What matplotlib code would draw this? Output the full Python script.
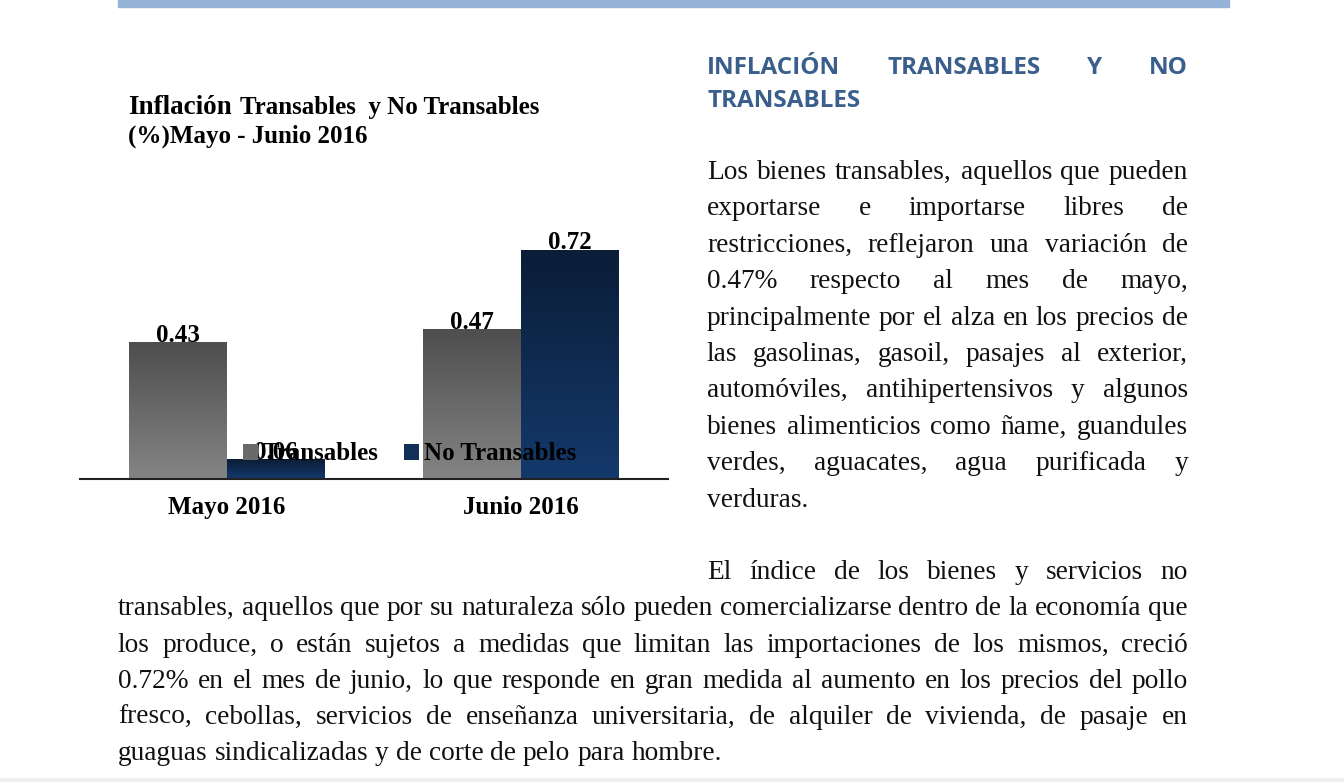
import matplotlib.pyplot as plt
import numpy as np
from matplotlib.colors import LinearSegmentedColormap
from matplotlib.patches import Rectangle

categorias = ["Mayo 2016", "Junio 2016"]
series = ["Transables", "No Transables"]
transables = [0.43, 0.47]
no_transables = [0.06, 0.72]

titulo_1 = "Inflación"
titulo_2 = "Transables  y No Transables"
titulo_3 = "(%)Mayo - Junio 2016"

encabezado = ["INFLACIÓN TRANSABLES Y NO", "TRANSABLES"]

parrafo_1 = [
    "Los bienes transables, aquellos que pueden",
    "exportarse e importarse libres de",
    "restricciones, reflejaron una variación de",
    "0.47% respecto al mes de mayo,",
    "principalmente por el alza en los precios de",
    "las gasolinas, gasoil, pasajes al exterior,",
    "automóviles, antihipertensivos y algunos",
    "bienes alimenticios como ñame, guandules",
    "verdes, aguacates, agua purificada y",
    "verduras.",
]

parrafo_2 = [
    "El índice de los bienes y servicios no",
    "transables, aquellos que por su naturaleza sólo pueden comercializarse dentro de la economía que",
    "los produce, o están sujetos a medidas que limitan las importaciones de los mismos, creció",
    "0.72% en el mes de junio, lo que responde en gran medida al aumento en los precios del pollo",
    "fresco, cebollas, servicios de enseñanza universitaria, de alquiler de vivienda, de pasaje en",
    "guaguas sindicalizadas y de corte de pelo para hombre.",
]

W, H = 1344, 782
fig = plt.figure(figsize=(W / 100, H / 100), dpi=100)
fig.patch.set_facecolor("white")


def fx(x):
    return x / W


def fy(y):
    return 1 - y / H


# page decoration: blue rule on top, grey strip at the bottom
fig.patches.append(Rectangle((fx(118), fy(7)), fx(1229) - fx(118), 7 / H,
                             transform=fig.transFigure, color="#95b3d7", zorder=0))
fig.patches.append(Rectangle((0, 0), 1, 4 / H, transform=fig.transFigure,
                             color="#efefef", zorder=0))

serif = "Liberation Serif"

# ---- chart ----
ax = fig.add_axes([fx(80), fy(479), fx(668) - fx(80), (479 - 193) / H])
x = np.arange(len(categorias))
w = 0.332
b1 = ax.bar(x - w / 2, transables, w, label=series[0], color="#6a6a6a")
b2 = ax.bar(x + w / 2, no_transables, w, label=series[1], color="#112f57")

grad = np.linspace(0, 1, 100).reshape(-1, 1)
cm_gris = LinearSegmentedColormap.from_list("gris", ["#4e4e4e", "#848484"])
cm_azul = LinearSegmentedColormap.from_list("azul", ["#0b1d37", "#14396b"])
for barras, cm in [(b1, cm_gris), (b2, cm_azul)]:
    for b in barras:
        x0, y0 = b.get_x(), b.get_y()
        ax.imshow(grad, cmap=cm, aspect="auto", origin="upper", zorder=1.5,
                  extent=[x0, x0 + b.get_width(), y0, y0 + b.get_height()])

ax.set_xlim(-0.5, 1.5)
ax.set_ylim(0, 0.9)
ax.set_aspect("auto")

for barras in (b1, b2):
    ax.bar_label(barras, fmt="%.2f", fontsize=18, fontweight="bold",
                 family=serif, padding=-3, zorder=2)

ax.set_xticks(x, categorias)
ax.tick_params(axis="x", length=0, pad=12)
for t in ax.get_xticklabels():
    t.set_fontsize(18)
    t.set_fontweight("bold")
    t.set_family(serif)
ax.set_yticks([])
for s in ("top", "left", "right"):
    ax.spines[s].set_visible(False)
ax.spines["bottom"].set_color("#222222")
ax.spines["bottom"].set_linewidth(1.5)
ax.patch.set_alpha(0)

ax.legend(loc="center left", bbox_to_anchor=(fx(243), fy(454)),
          bbox_transform=fig.transFigure, ncol=2, frameon=False,
          borderpad=0, borderaxespad=0, handlelength=0.6, handleheight=0.6,
          handletextpad=0.2, columnspacing=1.0,
          prop={"family": serif, "weight": "bold", "size": 18})

# chart title
fig.text(fx(128), fy(114), titulo_1, fontsize=19.5, fontweight="bold",
         family=serif, va="baseline")
fig.text(fx(240), fy(114), titulo_2, fontsize=18, fontweight="bold",
         family=serif, va="baseline")
fig.text(fx(128), fy(143), titulo_3, fontsize=18, fontweight="bold",
         family=serif, va="baseline")

# ---- text column ----
renderer = fig.canvas.get_renderer()


def linea(texto, x0, x1, y, justificar=True, **kw):
    palabras = texto.split()
    textos = [fig.text(fx(x0), fy(y), p, va="baseline", **kw) for p in palabras]
    anchos = [t.get_window_extent(renderer).width for t in textos]
    if justificar and len(textos) > 1:
        hueco = (x1 - x0 - sum(anchos)) / (len(textos) - 1)
    else:
        par = fig.text(0, 0, "a a", **kw)
        junto = fig.text(0, 0, "aa", **kw)
        hueco = par.get_window_extent(renderer).width - junto.get_window_extent(renderer).width
        par.remove()
        junto.remove()
    pos = x0
    for t, a in zip(textos, anchos):
        t.set_x(fx(pos))
        pos += a + hueco


estilo_enc = dict(fontsize=17.5, fontweight="bold", family="Open Sans", color="#3a5f8d")
linea(encabezado[0], 707, 1188, 74, True, **estilo_enc)
linea(encabezado[1], 707, 1188, 107, False, **estilo_enc)

estilo = dict(fontsize=19.7, family=serif, color="#111111")
for i, t in enumerate(parrafo_1):
    linea(t, 707, 1188, 179 + 36.4 * i, i < len(parrafo_1) - 1, **estilo)

for i, t in enumerate(parrafo_2):
    x0 = 707 if i == 0 else 118
    linea(t, x0, 1188, 579 + 36.3 * i, i < len(parrafo_2) - 1, **estilo)

fig.savefig("out.png", dpi=100)
